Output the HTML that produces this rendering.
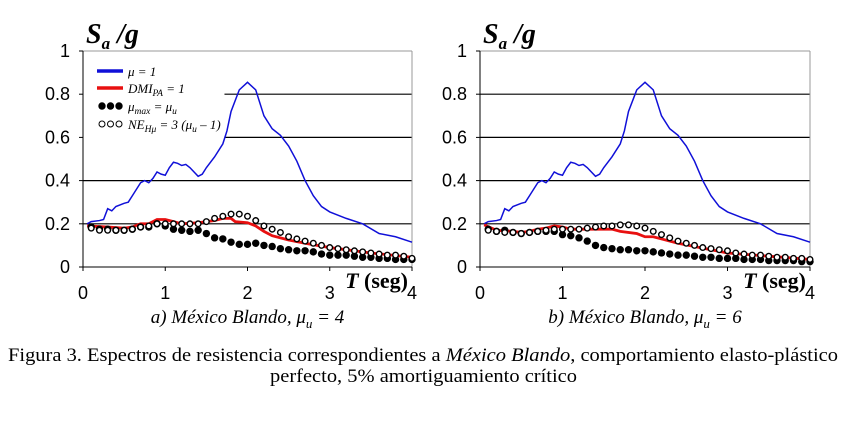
<!DOCTYPE html>
<html><head><meta charset="utf-8">
<style>
body{margin:0;background:#fff;width:861px;height:425px;overflow:hidden}
svg{display:block}
.tk{font-family:"Liberation Sans",sans-serif;font-size:18px;fill:#000}
.sr{font-family:"Liberation Serif",serif}
</style></head>
<body>
<svg id="s" width="861" height="425">
<text x="8" y="361" textLength="830" lengthAdjust="spacingAndGlyphs" class="sr" font-size="19">Figura 3.  Espectros de resistencia correspondientes a <tspan font-style="italic">México Blando</tspan>, comportamiento elasto-plástico</text>
<text x="270" y="382" textLength="307" lengthAdjust="spacingAndGlyphs" class="sr" font-size="19">perfecto, 5% amortiguamiento crítico</text>
</svg>
<script>
const blueT=[0.05,0.1,0.2,0.25,0.3,0.35,0.4,0.5,0.55,0.6,0.7,0.75,0.8,0.85,0.9,0.95,1.0,1.05,1.1,1.15,1.2,1.25,1.3,1.4,1.45,1.5,1.6,1.7,1.75,1.8,1.9,2.0,2.1,2.2,2.3,2.4,2.5,2.6,2.7,2.8,2.9,3.0,3.2,3.4,3.6,3.8,4.0];
const blueV=[0.2,0.21,0.215,0.22,0.27,0.26,0.28,0.295,0.3,0.33,0.39,0.4,0.39,0.41,0.44,0.43,0.425,0.46,0.485,0.48,0.47,0.475,0.46,0.42,0.43,0.46,0.51,0.57,0.63,0.72,0.82,0.855,0.82,0.7,0.64,0.61,0.56,0.49,0.4,0.33,0.28,0.255,0.225,0.2,0.155,0.14,0.115];
const redTA=[0.05,0.3,0.5,0.6,0.7,0.8,0.9,1.0,1.1,1.2,1.4,1.6,1.7,1.8,1.85,2.0,2.1,2.2,2.3,2.5,2.7,3.0,3.5,4.0];
const redVA=[0.19,0.185,0.18,0.185,0.2,0.2,0.22,0.22,0.21,0.2,0.205,0.215,0.225,0.225,0.21,0.205,0.19,0.165,0.145,0.125,0.11,0.09,0.065,0.045];
const redTB=[0.05,0.2,0.4,0.5,0.6,0.7,0.8,0.9,1.0,1.1,1.2,1.4,1.6,1.7,1.9,2.0,2.1,2.2,2.4,2.6,2.8,3.0,3.5,4.0];
const redVB=[0.195,0.17,0.165,0.16,0.165,0.175,0.18,0.19,0.185,0.175,0.175,0.175,0.175,0.165,0.155,0.14,0.14,0.13,0.11,0.095,0.08,0.065,0.05,0.035];
const dotT=[0.1,0.2,0.3,0.4,0.5,0.6,0.7,0.8,0.9,1.0,1.1,1.2,1.3,1.4,1.5,1.6,1.7,1.8,1.9,2.0,2.1,2.2,2.3,2.4,2.5,2.6,2.7,2.8,2.9,3.0,3.1,3.2,3.3,3.4,3.5,3.6,3.7,3.8,3.9,4.0];
const fillA=[0.185,0.175,0.175,0.17,0.17,0.175,0.185,0.185,0.2,0.19,0.175,0.17,0.165,0.17,0.155,0.135,0.13,0.115,0.105,0.105,0.11,0.1,0.095,0.085,0.08,0.075,0.075,0.07,0.06,0.055,0.055,0.055,0.05,0.045,0.045,0.04,0.04,0.035,0.035,0.035];
const openA=[0.18,0.17,0.17,0.17,0.17,0.175,0.185,0.19,0.2,0.2,0.2,0.2,0.2,0.2,0.21,0.225,0.235,0.245,0.245,0.235,0.215,0.19,0.175,0.16,0.14,0.13,0.12,0.11,0.1,0.09,0.085,0.08,0.075,0.07,0.065,0.06,0.055,0.055,0.05,0.04];
const fillB=[0.175,0.165,0.17,0.16,0.155,0.16,0.165,0.165,0.165,0.15,0.145,0.135,0.12,0.1,0.09,0.085,0.08,0.08,0.075,0.075,0.07,0.065,0.06,0.055,0.055,0.05,0.045,0.045,0.04,0.04,0.04,0.035,0.035,0.035,0.03,0.03,0.03,0.03,0.025,0.025];
const openB=[0.17,0.165,0.16,0.16,0.155,0.16,0.165,0.17,0.175,0.175,0.175,0.175,0.18,0.185,0.19,0.19,0.195,0.195,0.19,0.18,0.165,0.15,0.135,0.12,0.11,0.1,0.09,0.085,0.08,0.075,0.065,0.06,0.055,0.055,0.05,0.045,0.045,0.04,0.04,0.035];
const yTicks=[0,0.2,0.4,0.6,0.8,1];
const xTicks=[0,1,2,3,4];
const yTickLabels=["0","0.2","0.4","0.6","0.8","1"];

const NS="http://www.w3.org/2000/svg";
const svg=document.getElementById('s');
function mk(tag,attrs,parent,txt){const e=document.createElementNS(NS,tag);for(const k in attrs)e.setAttribute(k,attrs[k]);if(txt!==undefined)e.textContent=txt;(parent||svg).appendChild(e);return e;}

function chart(x0,x1,id,redT,redV,fill,open,caption,mu,legend){
  const y0=267,y1=51;
  const X=t=>x0+(x1-x0)*t/4, Y=v=>y0-(y0-y1)*v;
  const g=mk('g',{});
  
  
  yTicks.forEach((v,i)=>{ if(v===0||v===1)return;
    const start=(legend&&v>=0.6)?X(1.72):x0;
    const l=mk('line',{x1:start,x2:x1,y1:Y(v),y2:Y(v),stroke:'#000','stroke-width':1.2},g);
    
    
  });
  mk('line',{x1:x0,x2:x1,y1:y1,y2:y1,stroke:'#999','stroke-width':1},g);
  mk('line',{x1:x1,x2:x1,y1:y1,y2:y0,stroke:'#999','stroke-width':1},g);
  const ya=mk('line',{x1:x0,x2:x0,y1:y1,y2:y0,stroke:'#000','stroke-width':1},g);
  
  
  const xa=mk('line',{x1:x0,x2:x1,y1:y0,y2:y0,stroke:'#000','stroke-width':1},g);
  
  
  yTicks.forEach((v,i)=>{
    mk('line',{x1:x0-4,x2:x0,y1:Y(v),y2:Y(v),stroke:'#000'},g);
    const t=mk('text',{x:x0-13,y:Y(v)+6,'text-anchor':'end',class:'tk'},g,yTickLabels[i]);
    
    
  });
  xTicks.forEach(v=>{
    mk('line',{x1:X(v),x2:X(v),y1:y0,y2:y0+4,stroke:'#000'},g);
    const t=mk('text',{x:X(v),y:y0+32,'text-anchor':'middle',class:'tk'},g,String(v));
    
    
  });
  const yt=mk('text',{x:x0+3,y:43,class:'sr','font-size':28,'font-weight':'bold','font-style':'italic'},g);
  yt.innerHTML='S<tspan font-size="17" dy="6">a</tspan><tspan dy="-6"> /g</tspan>';
  
  
  const xt=mk('text',{x:x1-4,y:y0+21,'text-anchor':'end',class:'sr','font-size':22,'font-weight':'bold'},g);
  xt.innerHTML='<tspan font-style="italic">T</tspan> (seg)';
  
  
  const cp=mk('text',{x:(x0+x1)/2,y:323,'text-anchor':'middle',class:'sr','font-size':19,'font-style':'italic'},g);
  cp.innerHTML=caption+', μ<tspan font-size="13" dy="5">u</tspan><tspan dy="-5"> = '+mu+'</tspan>';
  
  
  const bl=mk('polyline',{points:blueT.map((t,i)=>X(t)+','+Y(blueV[i])).join(' '),fill:'none',stroke:'#1010d8','stroke-width':1.5},g);
  
  
  const rl=mk('polyline',{points:redT.map((t,i)=>X(t)+','+Y(redV[i])).join(' '),fill:'none',stroke:'#e81010','stroke-width':2.8},g);
  
  
  dotT.forEach((t,i)=>{
    const c=mk('circle',{cx:X(t),cy:Y(fill[i]),r:3.7,fill:'#000'},g);
    
    
  });
  dotT.forEach((t,i)=>{
    const c=mk('circle',{cx:X(t),cy:Y(open[i]),r:2.8,fill:'#fff',stroke:'#000','stroke-width':1.4},g);
    
    
  });
  if(legend){
    const lg=mk('g',{},g);
    
    
    const lx=97,ys=[71,88,106,124];
    mk('line',{x1:lx,x2:lx+26,y1:ys[0],y2:ys[0],stroke:'#1010d8','stroke-width':3.5},lg);
    mk('line',{x1:lx,x2:lx+26,y1:ys[1],y2:ys[1],stroke:'#e81010','stroke-width':3.5},lg);
    [0,1,2].forEach(k=>{mk('circle',{cx:lx+5+k*8.5,cy:ys[2],r:3.7,fill:'#000'},lg);
      mk('circle',{cx:lx+5+k*8.5,cy:ys[3],r:3,fill:'#fff',stroke:'#000','stroke-width':1},lg);});
    const ls=(y,h)=>{const t=mk('text',{x:lx+31,y:y+5,class:'sr','font-size':13,'font-style':'italic'},lg);t.innerHTML=h;};
    ls(ys[0],'μ = 1');
    ls(ys[1],'DMI<tspan font-size="9.5" dy="3">PA</tspan><tspan dy="-3"> = 1</tspan>');
    ls(ys[2],'μ<tspan font-size="9.5" dy="3">max</tspan><tspan dy="-3"> = μ</tspan><tspan font-size="9.5" dy="3">u</tspan>');
    ls(ys[3],'NE<tspan font-size="9.5" dy="3">Hμ</tspan><tspan dy="-3"> = 3 (μ</tspan><tspan font-size="9.5" dy="3">u</tspan><tspan dy="-3"> – 1)</tspan>');
  }
}
chart(83,412,'a',redTA,redVA,fillA,openA,'a) México Blando',4,true);
chart(480,810,'b',redTB,redVB,fillB,openB,'b) México Blando',6,false);
</script>
</body></html>
